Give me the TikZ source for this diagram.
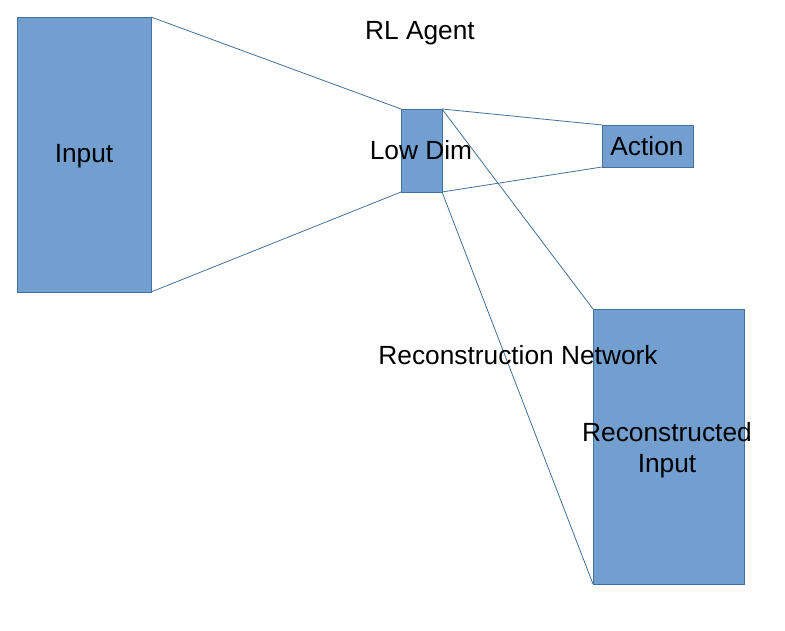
\documentclass[tikz,border=0pt]{standalone}
\usepackage{fontspec}
\setmainfont{Liberation Sans}
\definecolor{boxfill}{RGB}{114,159,207}
\definecolor{boxline}{RGB}{65,113,156}
\begin{document}
\begin{tikzpicture}[x=1pt,y=-1pt,
  blk/.style={draw=boxline,fill=boxfill,line width=0.8pt},
  lnk/.style={draw=boxline,line width=0.8pt},
  lbl/.style={font=\fontsize{26.3}{30.7}\selectfont,inner sep=0pt,align=center,anchor=base}]
\useasboundingbox (0,0) rectangle (785,631);
\fill[white] (0,0) rectangle (785,631);
% boxes
\path[blk] (17,17) rectangle (151,292);
\coordinate (inTR) at (151,17); \coordinate (inBR) at (151,292);
\path[blk] (401,109) rectangle (442,192);
\coordinate (ldTL) at (401,109); \coordinate (ldBL) at (401,192);
\coordinate (ldTR) at (442,109); \coordinate (ldBR) at (442,192);
\path[blk] (602,125) rectangle (693,167);
\coordinate (acTL) at (602,125); \coordinate (acBL) at (602,167);
\path[blk] (593,309) rectangle (744,584);
\coordinate (reTL) at (593,309); \coordinate (reBL) at (593,584);
% connectors
\draw[lnk] (inTR) -- (ldTL);
\draw[lnk] (inBR) -- (ldBL);
\draw[lnk] (ldTR) -- (acTL);
\draw[lnk] (ldBR) -- (acBL);
\draw[lnk] (ldTR) -- (reTL);
\draw[lnk] (ldBR) -- (reBL);
% labels
\node[lbl] (rl) at (420,39.3) {RL Agent};
\node[lbl] (inp) at (84,162.7) {Input};
\node[lbl] (low) at (421,160) {Low Dim};
\node[lbl] (act) at (647,156) {Action};
\node[lbl] (rn) at (518,364) {Reconstruction Network};
\node[lbl,anchor=center] (rec) at (667,450) {Reconstructed\\Input};
\end{tikzpicture}
\end{document}
